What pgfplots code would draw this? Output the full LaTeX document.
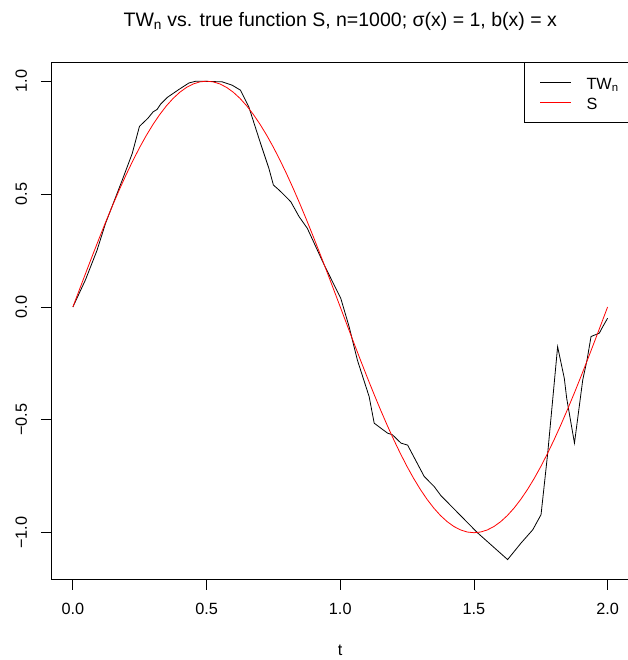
\documentclass[border=0pt]{standalone}
\usepackage{fontspec}
\setmainfont{Liberation Sans}
\usepackage{pgfplots}
\pgfplotsset{compat=1.18}
\begin{document}
\begin{tikzpicture}
\useasboundingbox (0,0) rectangle (628bp,660bp);
\begin{axis}[
  at={(51.5bp,81bp)}, anchor=south west,
  scale only axis, width=577.5bp, height=517bp,
  xmin=-0.08, xmax=2.08, ymin=-1.205, ymax=1.085,
  axis line style={line width=0.8bp},
  xtick={0,0.5,1,1.5,2}, xticklabels={0.0,0.5,1.0,1.5,2.0},
  ytick={-1,-0.5,0,0.5,1}, yticklabels={−1.0,−0.5,0.0,0.5,1.0},
  xtick pos=bottom, ytick pos=left,
  tick align=outside, major tick length=10.5bp,
  tick style={line width=0.8bp, black},
  ticklabel style={font=\fontsize{16.25bp}{19bp}\selectfont},
  xticklabel style={anchor=base},
  xticklabel shift=25bp,
  yticklabel style={rotate=90, anchor=base},
  yticklabel shift=14bp,
  xlabel={t},
  xlabel style={at={(axis description cs:0.5,0)}, anchor=base, yshift=-76bp, font=\fontsize{16.25bp}{19bp}\selectfont},
  title={TW\textsubscript{n} vs. true function S, n=1000; σ(x) = 1, b(x) = x},
  title style={at={(axis description cs:0.5,1)}, anchor=base, yshift=29.5bp, font=\fontsize{19.5bp}{23bp}\selectfont},
  legend style={at={(1,1)}, anchor=north east, draw=black, line width=0.8bp, fill=white,
    font=\fontsize{16.25bp}{19bp}\selectfont,
    inner xsep=10bp, inner ysep=12bp, row sep=4bp,
    nodes={inner sep=0bp, text height=15bp, text depth=1bp},
    /tikz/every odd column/.append style={column sep=15bp}},
  legend cell align=left,
  legend image code/.code={\path (0bp,0bp); \draw[#1] (5bp,0bp) -- (36bp,0bp);},
]
\addplot[black, line width=0.8bp] coordinates {
(0,0) (0.047,0.12) (0.09,0.25) (0.122,0.37) (0.184,0.56) (0.222,0.68)
(0.249,0.80) (0.28,0.835) (0.30,0.864) (0.315,0.875) (0.328,0.898)
(0.353,0.928) (0.396,0.963) (0.434,0.992) (0.46,1.0) (0.478,1.0)
(0.559,0.997) (0.596,0.982) (0.627,0.96) (0.658,0.886) (0.702,0.724)
(0.733,0.614) (0.75,0.54) (0.771,0.518) (0.79,0.496) (0.815,0.466)
(0.846,0.40) (0.877,0.348) (0.94,0.186) (1.002,0.038) (1.033,-0.087)
(1.064,-0.235) (1.108,-0.397) (1.127,-0.515) (1.152,-0.537) (1.177,-0.559)
(1.195,-0.566) (1.227,-0.603) (1.252,-0.612) (1.314,-0.751) (1.351,-0.795)
(1.376,-0.835) (1.514,-1.001) (1.626,-1.119) (1.676,-1.046) (1.72,-0.987)
(1.751,-0.92) (1.776,-0.647) (1.813,-0.176) (1.838,-0.316) (1.847,-0.405)
(1.876,-0.603) (1.907,-0.323) (1.923,-0.235) (1.938,-0.131) (1.969,-0.116)
(1.982,-0.087) (2.0,-0.05)
};
\addlegendentry{TW\textsubscript{n}}
\addplot[red, line width=0.8bp] coordinates {
(0,0) (0.025,0.07846) (0.05,0.15643) (0.075,0.23345) (0.1,0.30902)
(0.125,0.38268) (0.15,0.45399) (0.175,0.52250) (0.2,0.58779) (0.225,0.64945)
(0.25,0.70711) (0.275,0.76041) (0.3,0.80902) (0.325,0.85264) (0.35,0.89101)
(0.375,0.92388) (0.4,0.95106) (0.425,0.97237) (0.45,0.98769) (0.475,0.99692)
(0.5,1) (0.525,0.99692) (0.55,0.98769) (0.575,0.97237) (0.6,0.95106)
(0.625,0.92388) (0.65,0.89101) (0.675,0.85264) (0.7,0.80902) (0.725,0.76041)
(0.75,0.70711) (0.775,0.64945) (0.8,0.58779) (0.825,0.52250) (0.85,0.45399)
(0.875,0.38268) (0.9,0.30902) (0.925,0.23345) (0.95,0.15643) (0.975,0.07846)
(1,0) (1.025,-0.07846) (1.05,-0.15643) (1.075,-0.23345) (1.1,-0.30902)
(1.125,-0.38268) (1.15,-0.45399) (1.175,-0.52250) (1.2,-0.58779) (1.225,-0.64945)
(1.25,-0.70711) (1.275,-0.76041) (1.3,-0.80902) (1.325,-0.85264) (1.35,-0.89101)
(1.375,-0.92388) (1.4,-0.95106) (1.425,-0.97237) (1.45,-0.98769) (1.475,-0.99692)
(1.5,-1) (1.525,-0.99692) (1.55,-0.98769) (1.575,-0.97237) (1.6,-0.95106)
(1.625,-0.92388) (1.65,-0.89101) (1.675,-0.85264) (1.7,-0.80902) (1.725,-0.76041)
(1.75,-0.70711) (1.775,-0.64945) (1.8,-0.58779) (1.825,-0.52250) (1.85,-0.45399)
(1.875,-0.38268) (1.9,-0.30902) (1.925,-0.23345) (1.95,-0.15643) (1.975,-0.07846)
(2,0)
};
\addlegendentry{S}
\end{axis}
\end{tikzpicture}
\end{document}
